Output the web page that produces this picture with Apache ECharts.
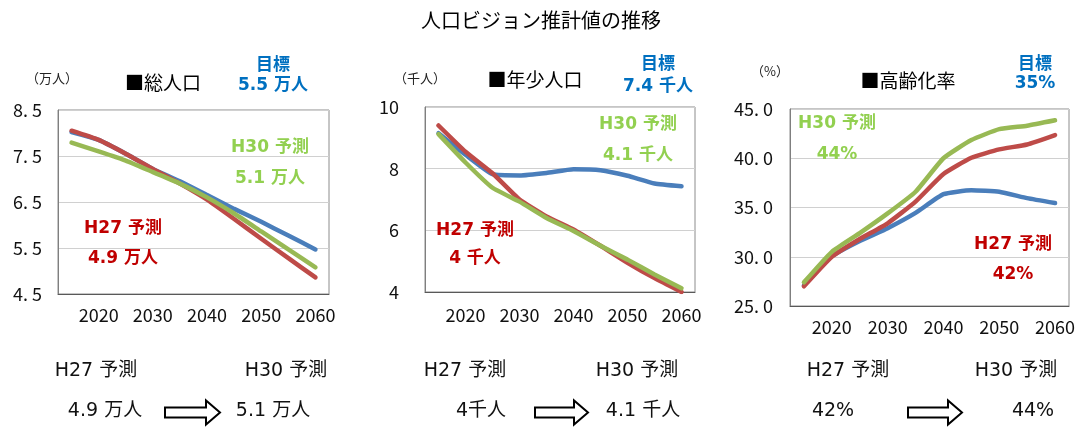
<!DOCTYPE html>
<html>
<head>
<meta charset="utf-8">
<script src="https://cdn.jsdelivr.net/npm/echarts@6/dist/echarts.min.js"></script>
<style>
html,body{margin:0;padding:0;background:#fff;}
#c{width:1080px;height:428px;}
</style>
</head>
<body>
<div id="c"></div>
<script>
// ---- data ----
const years = ['2015','2020','2025','2030','2035','2040','2045','2050','2055','2060'];

// 総人口 (万人)
const totalTarget = [8.02, 7.85, 7.55, 7.22, 6.95, 6.65, 6.35, 6.07, 5.77, 5.47];
const totalH27    = [8.05, 7.85, 7.55, 7.22, 6.90, 6.55, 6.13, 5.70, 5.28, 4.86];
const totalH30    = [7.79, 7.60, 7.40, 7.15, 6.90, 6.60, 6.25, 5.86, 5.47, 5.08];

// 年少人口 (千人)
const youthTarget = [9.15, 8.45, 7.82, 7.78, 7.86, 7.98, 7.95, 7.77, 7.52, 7.43];
const youthH27    = [9.40, 8.55, 7.85, 7.00, 6.45, 6.03, 5.50, 4.95, 4.45, 4.00];
const youthH30    = [9.12, 8.20, 7.38, 6.93, 6.40, 5.98, 5.50, 5.05, 4.57, 4.12];

// 高齢化率 (%)
const agingTarget = [27.1, 30.05, 31.6, 32.9, 34.45, 36.35, 36.75, 36.6, 35.95, 35.45];
const agingH27    = [27.0, 30.0, 31.8, 33.4, 35.6, 38.4, 40.05, 40.9, 41.4, 42.35];
const agingH30    = [27.4, 30.5, 32.4, 34.4, 36.6, 40.0, 41.85, 42.95, 43.3, 43.85];

// ---- text ----
const mainTitle = '人口ビジョン推計値の推移';
const panelTitles = ['■総人口', '■年少人口', '■高齢化率'];
const unitLabels = ['（万人）', '（千人）', '（%）'];
const targetLabel = '目標';
const targetValues = ['5.5 万人', '7.4 千人', '35%'];
const h27Label = 'H27 予測';
const h30Label = 'H30 予測';
const h27Values = ['4.9 万人', '4 千人', '42%'];
const h30Values = ['5.1 万人', '4.1 千人', '44%'];
const bottomH27Values = ['4.9 万人', '4千人', '42%'];
const bottomH30Values = ['5.1 万人', '4.1 千人', '44%'];

// ---- styles ----
const FONT = '"Noto Sans CJK JP", "Noto Sans", sans-serif';
const FONT_W = '"DejaVu Sans", "Noto Sans CJK JP", sans-serif';
const C_BLUE = '#4a7ebb', C_RED = '#be4b48', C_GREEN = '#98b954';
const T_BLUE = '#0070c0', T_RED = '#c00000', T_GREEN = '#92d050';

const grids = [
  {left: 58, top: 110, width: 271, height: 184},
  {left: 425, top: 107, width: 270, height: 185},
  {left: 790, top: 109, width: 279, height: 197}
];
const yCfg = [
  {min: 4.5, max: 8.5, interval: 1, margin: 16, fmt: v => v.toFixed(1).replace('.', '. ')},
  {min: 4, max: 10, interval: 2, margin: 26, fmt: v => String(v)},
  {min: 25, max: 45, interval: 5, margin: 17, fmt: v => v.toFixed(1).replace('.', '. ')}
];
const xMargins = [12, 14, 12];

const seriesSets = [
  [totalTarget, totalH27, totalH30],
  [youthTarget, youthH27, youthH30],
  [agingTarget, agingH27, agingH30]
];

const option = {
  backgroundColor: '#fff',
  animation: false,
  grid: grids.map(g => Object.assign({show: true, borderColor: '#8c8c8c', borderWidth: 1, backgroundColor: 'transparent'}, g)),
  xAxis: grids.map((g, i) => ({
    type: 'category', gridIndex: i, data: years, boundaryGap: true,
    axisTick: {show: false},
    axisLine: {show: true, lineStyle: {color: '#595959', width: 1}},
    axisLabel: {interval: (idx) => idx % 2 === 1, color: '#111', fontSize: 18, fontFamily: FONT, margin: xMargins[i]},
    splitLine: {show: false}
  })),
  yAxis: yCfg.map((c, i) => ({
    type: 'value', gridIndex: i, min: c.min, max: c.max, interval: c.interval,
    axisLine: {show: true, lineStyle: {color: '#7f7f7f'}},
    axisTick: {show: false},
    axisLabel: {color: '#111', fontSize: 18, fontFamily: FONT, margin: c.margin, formatter: c.fmt},
    splitLine: {show: true, lineStyle: {color: '#d0d0d0', width: 1}}
  })),
  series: [],
  graphic: []
};

const colors = [C_BLUE, C_RED, C_GREEN];
seriesSets.forEach((set, p) => {
  set.forEach((d, k) => {
    option.series.push({
      type: 'line', xAxisIndex: p, yAxisIndex: p, data: d,
      symbol: 'none', smooth: 0.15,
      lineStyle: {color: colors[k], width: 4.5, cap: 'round', join: 'round'},
      z: 2 + k
    });
  });
});

function txt(x, y, text, fill, size, weight, fam) {
  return {type: 'text', x: x, y: y, z: 100,
    style: {text: text, fill: fill, font: (weight || 'normal') + ' ' + size + 'px ' + (fam || FONT),
      align: 'center', verticalAlign: 'middle'}};
}
const G = option.graphic;
G.push(txt(541, 20, mainTitle, '#000', 20));

// panel header positions
const unitPos = [[52, 78], [420, 78], [770, 71]];
const titlePos = [[163, 83], [535, 80], [908, 81]];
const tgtPos = [[273, 64, 86], [658, 63, 87], [1035, 63, 84]];
const h30Pos = [[270, 148, 179], [638, 125, 156], [837, 124, 155]];
const h27Pos = [[123, 229, 259], [475, 231, 259], [1013, 245, 275]];
for (let p = 0; p < 3; p++) {
  G.push(txt(unitPos[p][0], unitPos[p][1], unitLabels[p], '#222', 13));
  G.push(txt(titlePos[p][0], titlePos[p][1], panelTitles[p], '#000', 19));
  G.push(txt(tgtPos[p][0], tgtPos[p][1], targetLabel, T_BLUE, 17, 'bold'));
  G.push(txt(tgtPos[p][0], tgtPos[p][2], targetValues[p], T_BLUE, 17, 'bold', FONT_W));
  G.push(txt(h30Pos[p][0], h30Pos[p][1], h30Label, T_GREEN, 17, 'bold', FONT_W));
  G.push(txt(h30Pos[p][0], h30Pos[p][2], h30Values[p], T_GREEN, 17, 'bold', FONT_W));
  G.push(txt(h27Pos[p][0], h27Pos[p][1], h27Label, T_RED, 17, 'bold', FONT_W));
  G.push(txt(h27Pos[p][0], h27Pos[p][2], h27Values[p], T_RED, 17, 'bold', FONT_W));
}

// bottom comparison rows
const bH27x = [96, 465, 848], bH30x = [286, 637, 1016];
const bV27x = [105, 481, 833], bV30x = [273, 643, 1033];
const arrows = [[165, 220], [535, 588], [908, 962]];
for (let p = 0; p < 3; p++) {
  G.push(txt(bH27x[p], 371, h27Label, '#111', 19, 'normal', FONT_W));
  G.push(txt(bH30x[p], 371, h30Label, '#111', 19, 'normal', FONT_W));
  G.push(txt(bV27x[p], 411, bottomH27Values[p], '#111', 19, 'normal', FONT_W));
  G.push(txt(bV30x[p], 411, bottomH30Values[p], '#111', 19, 'normal', FONT_W));
  const x0 = arrows[p][0], x1 = arrows[p][1], hx = x1 - 14, cy = 412.5;
  G.push({type: 'polygon', z: 100,
    shape: {points: [[x0, cy - 5], [hx, cy - 5], [hx, cy - 12], [x1, cy], [hx, cy + 12], [hx, cy + 5], [x0, cy + 5]]},
    style: {fill: '#fff', stroke: '#000', lineWidth: 2}});
}

const chart = echarts.init(document.getElementById('c'), null, {renderer: 'canvas'});
chart.setOption(option);
</script>
</body>
</html>
